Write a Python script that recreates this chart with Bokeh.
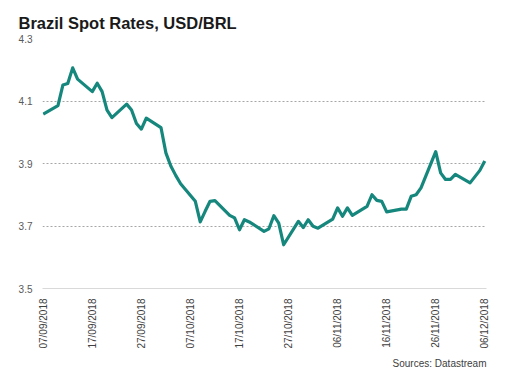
import pandas as pd
from bokeh.plotting import figure
from bokeh.models import FixedTicker, DatetimeTickFormatter, Title, Range1d
from bokeh.embed import file_html
from bokeh.resources import INLINE

dates = pd.to_datetime([
    "2018-09-07", "2018-09-10", "2018-09-11", "2018-09-12", "2018-09-13", "2018-09-14",
    "2018-09-17", "2018-09-18", "2018-09-19", "2018-09-20", "2018-09-21",
    "2018-09-24", "2018-09-25", "2018-09-26", "2018-09-27", "2018-09-28",
    "2018-10-01", "2018-10-02", "2018-10-03", "2018-10-04", "2018-10-05",
    "2018-10-08", "2018-10-09", "2018-10-10", "2018-10-11", "2018-10-12",
    "2018-10-15", "2018-10-16", "2018-10-17", "2018-10-18", "2018-10-19",
    "2018-10-22", "2018-10-23", "2018-10-24", "2018-10-25", "2018-10-26",
    "2018-10-29", "2018-10-30", "2018-10-31", "2018-11-01", "2018-11-02",
    "2018-11-05", "2018-11-06", "2018-11-07", "2018-11-08", "2018-11-09",
    "2018-11-12", "2018-11-13", "2018-11-14", "2018-11-15", "2018-11-16",
    "2018-11-19", "2018-11-20", "2018-11-21", "2018-11-22", "2018-11-23",
    "2018-11-26", "2018-11-27", "2018-11-28", "2018-11-29", "2018-11-30",
    "2018-12-03", "2018-12-04", "2018-12-05", "2018-12-06",
])
usd_brl = [
    4.058, 4.085, 4.151, 4.156, 4.206, 4.170,
    4.130, 4.157, 4.130, 4.071, 4.047,
    4.090, 4.071, 4.028, 4.010, 4.045,
    4.015, 3.934, 3.892, 3.862, 3.835,
    3.779, 3.713, 3.747, 3.779, 3.781,
    3.734, 3.726, 3.688, 3.720, 3.713,
    3.683, 3.691, 3.733, 3.709, 3.640,
    3.715, 3.695, 3.720, 3.699, 3.693,
    3.722, 3.758, 3.731, 3.758, 3.734,
    3.763, 3.800, 3.782, 3.779, 3.745,
    3.754, 3.754, 3.795, 3.800, 3.822,
    3.938, 3.870, 3.849, 3.849, 3.865,
    3.838, 3.858, 3.878, 3.908,
]
tick_dates = pd.to_datetime([
    "2018-09-07", "2018-09-17", "2018-09-27", "2018-10-07", "2018-10-17",
    "2018-10-27", "2018-11-06", "2018-11-16", "2018-11-26", "2018-12-06",
])
y_ticks = [3.5, 3.7, 3.9, 4.1, 4.3]
grid_ticks = [3.7, 3.9, 4.1, 4.3]

DAY = 86400000
x0 = dates[0].value / 1e6 - 0.15 * DAY
x1 = dates[-1].value / 1e6 + 0.35 * DAY

p = figure(width=516, height=372, x_axis_type="datetime",
           output_backend="svg", toolbar_location=None,
           x_range=Range1d(x0, x1), y_range=Range1d(3.5, 4.3),
           min_border_left=42, min_border_right=30, min_border_top=38,
           min_border_bottom=10)
p.outline_line_color = None
p.background_fill_color = "white"
p.border_fill_color = "white"

p.title.text = "Brazil Spot Rates, USD/BRL"
p.title.text_font = "Liberation Sans"
p.title.text_font_size = "16.5px"
p.title.text_font_style = "bold"
p.title.text_color = "#1a1a1a"
p.title.offset = -24
p.title.standoff = 13

p.line(dates, usd_brl, line_color="#15877d", line_width=3.2, line_join="round")

xa = p.xaxis[0]
xa.ticker = FixedTicker(ticks=[d.value / 1e6 for d in tick_dates])
fmt = "%d/%m/%Y"
xa.formatter = DatetimeTickFormatter(days=fmt, months=fmt, years=fmt, hours=fmt,
                                     hourmin=fmt, minutes=fmt, seconds=fmt,
                                     milliseconds=fmt, microseconds=fmt, minsec=fmt)
xa.major_label_orientation = 1.5708
xa.major_label_text_font = "Liberation Sans"
xa.major_label_text_font_size = "10px"
xa.major_label_text_color = "#404040"
xa.major_tick_line_color = None
xa.minor_tick_line_color = None
xa.axis_line_color = "#d9d9d9"
xa.axis_line_width = 1
xa.major_label_standoff = 4

ya = p.yaxis[0]
ya.ticker = FixedTicker(ticks=y_ticks)
ya.major_label_text_font = "Liberation Sans"
ya.major_label_text_font_size = "10px"
ya.major_label_text_color = "#595959"
ya.major_tick_line_color = None
ya.minor_tick_line_color = None
ya.axis_line_color = None
ya.major_label_standoff = 4

p.xgrid.grid_line_color = None
p.ygrid.ticker = FixedTicker(ticks=grid_ticks)
p.ygrid.grid_line_color = "#a6a6a6"
p.ygrid.grid_line_dash = "2 2"
p.ygrid.grid_line_width = 1

src = Title(text="Sources: Datastream", align="right", text_font="Liberation Sans",
            text_font_size="10px", text_font_style="normal", text_color="#404040",
            standoff=8)
p.add_layout(src, "below")

open("out.html", "w").write(file_html(p, INLINE))
